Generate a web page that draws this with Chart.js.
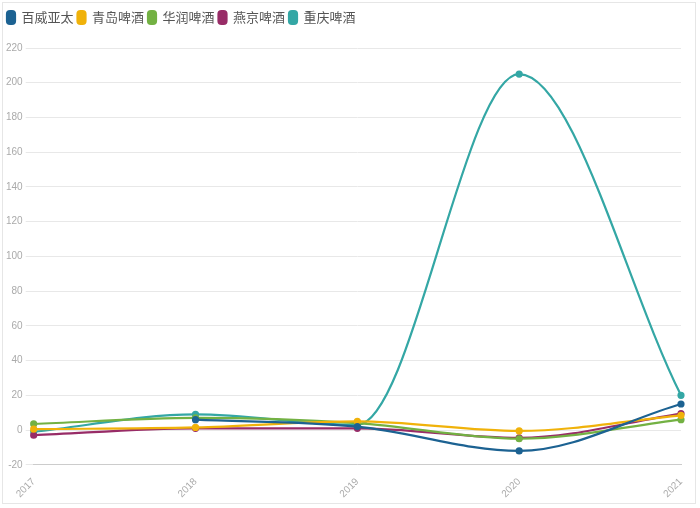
<!DOCTYPE html>
<html>
<head>
<meta charset="utf-8">
<script src="https://cdn.jsdelivr.net/npm/chart.js@4"></script>
<style>
  body { margin: 0; background: #fff; }
  .box { position: absolute; left: 2px; top: 2px; width: 694px; height: 502px; border: 1px solid #e6e6e6; box-sizing: border-box; }
  canvas { display: block; }
</style>
</head>
<body>
<div class="box"><canvas id="c"></canvas></div>
<script>
// 年份与各啤酒公司数值
const years = ['2017', '2018', '2019', '2020', '2021'];
const budweiser = [null, 6, 2, -12, 15];
const tsingtao = [0.5, 1.5, 5, -0.5, 8.5];
const huarun = [3.5, 7, 4, -5, 6];
const yanjing = [-3, 1, 1, -4.5, 9.5];
const chongqing = [-1, 9, 3, 205, 20];

const seriesNames = ['百威亚太', '青岛啤酒', '华润啤酒', '燕京啤酒', '重庆啤酒'];
const seriesData = [budweiser, tsingtao, huarun, yanjing, chongqing];
const colors = ['#1c6292', '#f0b20a', '#73b143', '#982c67', '#34a7a5'];

const datasets = seriesData.map((d, i) => ({
    label: seriesNames[i],
    data: d,
    borderColor: colors[i],
    backgroundColor: colors[i],
    borderWidth: 2.2,
    cubicInterpolationMode: 'monotone',
    pointRadius: 2.5,
    pointHoverRadius: 3,
    fill: false
}));

new Chart(document.getElementById('c'), {
    type: 'line',
    data: { labels: years, datasets },
    options: {
        responsive: true,
        maintainAspectRatio: false,
        animation: false,
        layout: { padding: { left: 0, right: 14, top: 4, bottom: 0 } },
        plugins: {
            legend: {
                position: 'top',
                align: 'start',
                labels: {
                    color: '#555',
                    font: { size: 13, family: 'Noto Sans CJK SC' },
                    boxWidth: 8,
                    boxHeight: 13,
                    padding: 4,
                    useBorderRadius: true,
                    borderRadius: 3
                }
            },
            legendSpacer: {},
            tooltip: { enabled: false }
        },
        scales: {
            y: {
                min: -20,
                max: 220,
                ticks: { stepSize: 20, color: '#aaa', font: { size: 10 } },
                grid: { color: '#e8e8e8' },
                border: { display: false }
            },
            x: {
                offset: false,
                grid: { display: false },
                border: { color: '#ccc' },
                ticks: { color: '#aaa', font: { size: 10 }, maxRotation: 45, minRotation: 45 }
            }
        }
    },
    plugins: [{
        id: 'legendSpacer',
        beforeInit(chart) {
            const orig = chart.legend.fit;
            chart.legend.fit = function () {
                orig.bind(chart.legend)();
                this.height += 14;
            };
        }
    }]
});
</script>
</body>
</html>
